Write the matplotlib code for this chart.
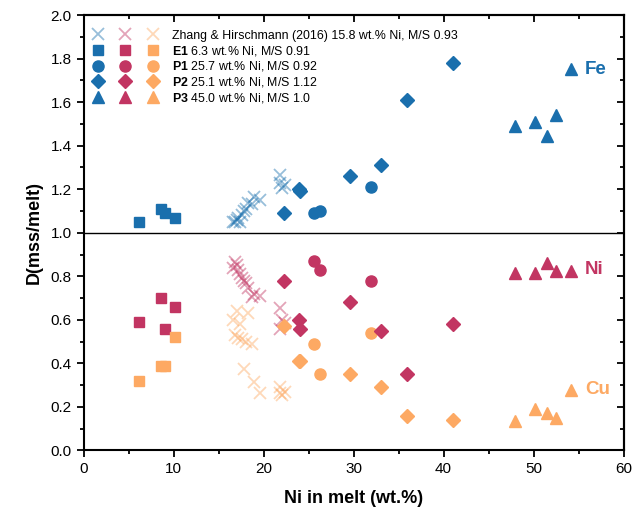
import matplotlib.pyplot as plt
from matplotlib.legend_handler import HandlerTuple
from matplotlib.lines import Line2D
from matplotlib.ticker import MultipleLocator

plt.rcParams['font.family'] = ['Liberation Sans', 'DejaVu Sans']
plt.rcParams['mathtext.fontset'] = 'custom'
plt.rcParams['mathtext.rm'] = 'Liberation Sans'
plt.rcParams['mathtext.bf'] = 'Liberation Sans:bold'

# ---- partition coefficients D(mss/melt) vs Ni in melt ----
# Zhang & Hirschmann (2016)
zh_ni = [16.6, 16.8, 17.0, 17.2, 17.4, 17.6, 17.8, 18.1, 18.3, 18.7, 18.9, 19.6, 21.8, 21.8, 22.0, 22.4]
zh_fe = [1.05, 1.05, 1.06, 1.07, 1.05, 1.08, 1.10, 1.11, 1.135, 1.13, 1.165, 1.15, 1.265, 1.23, 1.205, 1.22]
zh_nid = [0.84, 0.865, 0.85, 0.83, 0.81, 0.79, 0.78, 0.77, 0.745, 0.705, 0.72, 0.71, 0.655, 0.56, 0.60, 0.585]
zh_cu = [0.60, 0.53, 0.64, 0.515, 0.58, 0.51, 0.375, 0.50, 0.63, 0.49, 0.315, 0.265, 0.29, 0.265, 0.255, 0.27]

# E1
e1_ni = [6.2, 8.6, 9.05, 10.2]
e1_fe = [1.05, 1.11, 1.09, 1.07]
e1_nid = [0.59, 0.70, 0.56, 0.66]
e1_cu = [0.32, 0.39, 0.39, 0.52]

# P1
p1_ni = [25.6, 26.3, 31.9]
p1_fe = [1.09, 1.10, 1.21]
p1_nid = [0.87, 0.83, 0.78]
p1_cu = [0.49, 0.35, 0.54]

# P2
p2_ni = [22.3, 23.9, 24.1, 29.6, 33.1, 35.9, 41.1]
p2_fe = [1.09, 1.20, 1.19, 1.26, 1.31, 1.61, 1.78]
p2_nid = [0.78, 0.60, 0.56, 0.68, 0.55, 0.35, 0.58]
p2_cu = [0.57, 0.41, 0.41, 0.35, 0.29, 0.16, 0.14]

# P3
p3_ni = [47.9, 50.2, 51.5, 52.5, 54.2]
p3_fe = [1.49, 1.51, 1.445, 1.54, 1.75]
p3_nid = [0.815, 0.815, 0.86, 0.825, 0.825]
p3_cu = [0.135, 0.19, 0.17, 0.15, 0.28]

legend_labels = [
    'Zhang & Hirschmann (2016) 15.8 wt.% Ni, M/S 0.93',
    r'$\mathbf{E1}$ 6.3 wt.% Ni, M/S 0.91',
    r'$\mathbf{P1}$ 25.7 wt.% Ni, M/S 0.92',
    r'$\mathbf{P2}$ 25.1 wt.% Ni, M/S 1.12',
    r'$\mathbf{P3}$ 45.0 wt.% Ni, M/S 1.0',
]

BLUE = '#1a6fad'
RED = '#c23562'
ORANGE = '#fda963'
colors = [BLUE, RED, ORANGE]

fig = plt.figure(figsize=(6.44, 5.19), dpi=100)
ax = fig.add_axes([0.1297, 0.132, 0.8385, 0.839])

ax.axhline(1.0, color='black', lw=1.0, zorder=1)

# (x, [Fe, Ni, Cu], marker, size)
sets = [
    (zh_ni, [zh_fe, zh_nid, zh_cu], 'x', 9),
    (e1_ni, [e1_fe, e1_nid, e1_cu], 's', 7),
    (p1_ni, [p1_fe, p1_nid, p1_cu], 'o', 8),
    (p2_ni, [p2_fe, p2_nid, p2_cu], 'D', 7),
    (p3_ni, [p3_fe, p3_nid, p3_cu], '^', 8.5),
]

handles = []
for x, ys, mk, ms in sets:
    row = []
    for y, c in zip(ys, colors):
        if mk == 'x':
            kw = dict(color=c, alpha=0.45, mew=1.3)
        else:
            kw = dict(color=c, mec=c)
        ax.plot(x, y, ls='none', marker=mk, ms=ms, zorder=3, **kw)
        row.append(Line2D([], [], ls='none', marker=mk, ms=ms, **kw))
    handles.append(tuple(row))

leg = ax.legend(handles, legend_labels, handler_map={tuple: HandlerTuple(ndivide=None, pad=1.2)},
                loc='upper left', frameon=False, fontsize=8.9, handlelength=5.4,
                handletextpad=1.1, labelspacing=0.15, borderaxespad=0.5,
                bbox_to_anchor=(-0.005, 0.992))

ax.text(54.2 + 1.5, 1.75, 'Fe', color=BLUE, fontsize=13.5, fontweight='bold', va='center')
ax.text(54.2 + 1.5, 0.83, 'Ni', color=RED, fontsize=13.5, fontweight='bold', va='center')
ax.text(54.2 + 1.5, 0.28, 'Cu', color=ORANGE, fontsize=13.5, fontweight='bold', va='center')

ax.set_xlim(0, 60)
ax.set_ylim(0, 2.0)
ax.xaxis.set_major_locator(MultipleLocator(10))
ax.xaxis.set_minor_locator(MultipleLocator(5))
ax.yaxis.set_major_locator(MultipleLocator(0.2))
ax.yaxis.set_minor_locator(MultipleLocator(0.1))
ax.yaxis.set_major_formatter(lambda v, p: f'{v:.1f}')
ax.tick_params(which='major', direction='out', length=5, width=1.3, labelsize=11)
ax.tick_params(which='minor', direction='out', length=3, width=1.3)
for s in ax.spines.values():
    s.set_linewidth(1.5)

# inward ticks on the top and right spines
top = ax.secondary_xaxis('top')
top.xaxis.set_major_locator(MultipleLocator(10))
top.xaxis.set_minor_locator(MultipleLocator(5))
top.tick_params(which='major', direction='in', length=5, width=1.3, labeltop=False)
top.tick_params(which='minor', direction='in', length=3, width=1.3)
right = ax.secondary_yaxis('right')
right.yaxis.set_major_locator(MultipleLocator(0.2))
right.yaxis.set_minor_locator(MultipleLocator(0.1))
right.tick_params(which='major', direction='in', length=5, width=1.3, labelright=False)
right.tick_params(which='minor', direction='in', length=3, width=1.3)
for sa in (top, right):
    for s in sa.spines.values():
        s.set_linewidth(1.5)

ax.set_xlabel('Ni in melt (wt.%)', fontsize=13, fontweight='bold', labelpad=10)
ax.set_ylabel('D(mss/melt)', fontsize=13, fontweight='bold', labelpad=6)

fig.savefig('out.png', dpi=100)
